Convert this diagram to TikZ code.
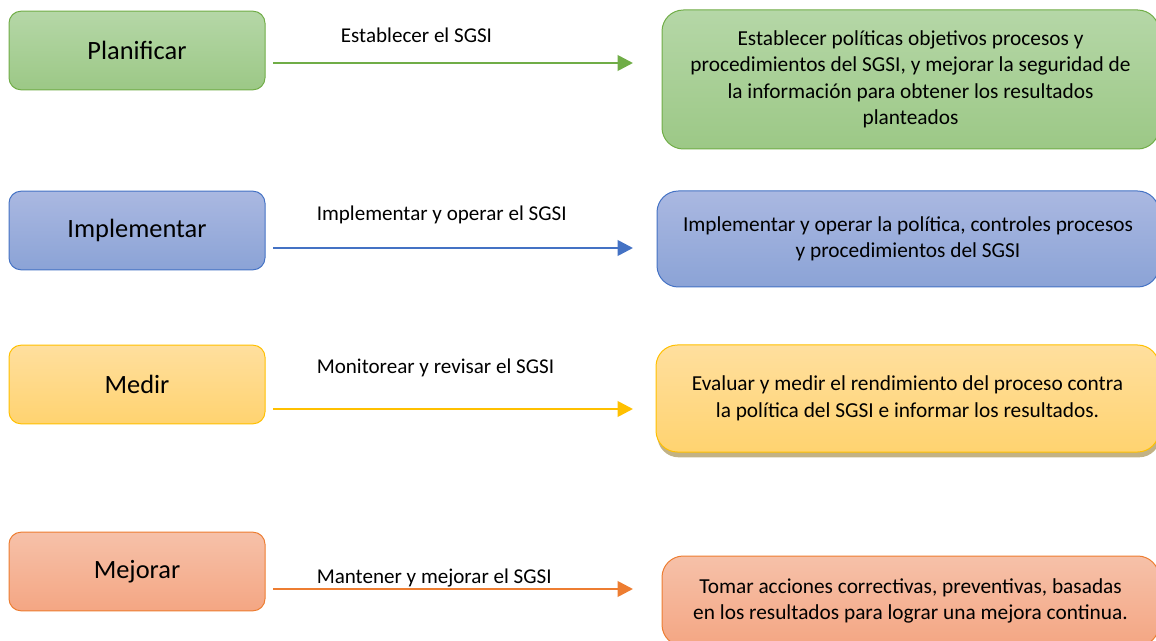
\documentclass[tikz,border=0pt]{standalone}
\usepackage{fontspec}
\setmainfont{Carlito}
\usetikzlibrary{positioning, arrows.meta, shadows}

\definecolor{planline}{HTML}{70AD47}
\definecolor{plantop}{HTML}{B5D7A7}
\definecolor{planbot}{HTML}{9CC886}
\definecolor{implline}{HTML}{4472C4}
\definecolor{impltop}{HTML}{AAB8E1}
\definecolor{implbot}{HTML}{8BA3D6}
\definecolor{medline}{HTML}{FFC000}
\definecolor{medtop}{HTML}{FFDF9E}
\definecolor{medbot}{HTML}{FFD370}
\definecolor{mejline}{HTML}{ED7D31}
\definecolor{mejtop}{HTML}{F6C1A9}
\definecolor{mejbot}{HTML}{F4A683}
\definecolor{medshadow}{HTML}{BBAA78}

\begin{document}
\begin{tikzpicture}[x=0.75pt, y=-0.75pt,
    phase/.style={draw, line width=0.75pt, rounded corners=9pt,
      minimum width=192pt, minimum height=59pt,
      font=\fontsize{19.8}{23}\selectfont},
    task/.style={draw, line width=0.75pt, rounded corners=16pt, align=center,
      font=\fontsize{16}{19.8}\selectfont},
    flow/.style={line width=2pt, -{Triangle[length=11.5pt,width=11.5pt]}},
    flowlabel/.style={inner sep=0pt, font=\fontsize{15.8}{19}\selectfont}]
    \useasboundingbox (0,0) rectangle (1156,641);

    % Draw the four phases
    \node (plan) [phase, draw=planline, top color=plantop, bottom color=planbot]
      at (137,50.5) {Planificar};
    \node (impl) [phase, draw=implline, top color=impltop, bottom color=implbot]
      at (137,230.5) {Implementar};
    \node (medir) [phase, draw=medline, top color=medtop, bottom color=medbot]
      at (137,384.5) {Medir};
    \node (mejorar) [phase, draw=mejline, top color=mejtop, bottom color=mejbot]
      at (137,571.5) {Mejorar};

    % Draw what each phase does
    \node (planTask) [task, draw=planline, top color=plantop, bottom color=planbot,
      minimum width=372.75pt, minimum height=104.25pt] at (910.5,79.5)
      {Establecer políticas objetivos procesos y\\
       procedimientos del SGSI, y mejorar la seguridad de\\
       la información para obtener los resultados\\
       planteados};
    \node (implTask) [task, draw=implline, top color=impltop, bottom color=implbot,
      minimum width=376.5pt, minimum height=72pt] at (908,239)
      {Implementar y operar la política, controles procesos\\
       y procedimientos del SGSI};
    \node (medirTask) [task, draw=medline, top color=medtop, bottom color=medbot,
      minimum width=377.25pt, minimum height=80.25pt,
      drop shadow={shadow xshift=1pt, shadow yshift=-4pt, fill=medshadow, opacity=0.9}]
      at (907.5,398.5)
      {Evaluar y medir el rendimiento del proceso contra\\
       la política del SGSI e informar los resultados.};
    \node (mejorarTask) [task, draw=mejline, top color=mejtop, bottom color=mejbot,
      minimum width=372.75pt, minimum height=67.5pt] at (910.5,601)
      {Tomar acciones correctivas, preventivas, basadas\\
       en los resultados para lograr una mejora continua.};

    % Draw the arrows between them
    \coordinate (planA) at (273,63);
    \coordinate (planB) at (633,63);
    \coordinate (implA) at (273,248);
    \coordinate (implB) at (633,248);
    \coordinate (medirA) at (273,409);
    \coordinate (medirB) at (633,409);
    \coordinate (mejorarA) at (273,589);
    \coordinate (mejorarB) at (633,589);

    \draw [flow, planline] (planA) -- (planB);
    \draw [flow, implline] (implA) -- (implB);
    \draw [flow, medline] (medirA) -- (medirB);
    \draw [flow, mejline] (mejorarA) -- (mejorarB);

    \node (planLbl) [flowlabel] at (416.5,35) {Establecer el SGSI};
    \node (implLbl) [flowlabel, anchor=west] at (316.5,215) {Implementar y operar el SGSI};
    \node (medirLbl) [flowlabel, anchor=west] at (316.5,368) {Monitorear y revisar el SGSI};
    \node (mejorarLbl) [flowlabel, anchor=west] at (316.5,578) {Mantener y mejorar el SGSI};
  \end{tikzpicture}
\end{document}
